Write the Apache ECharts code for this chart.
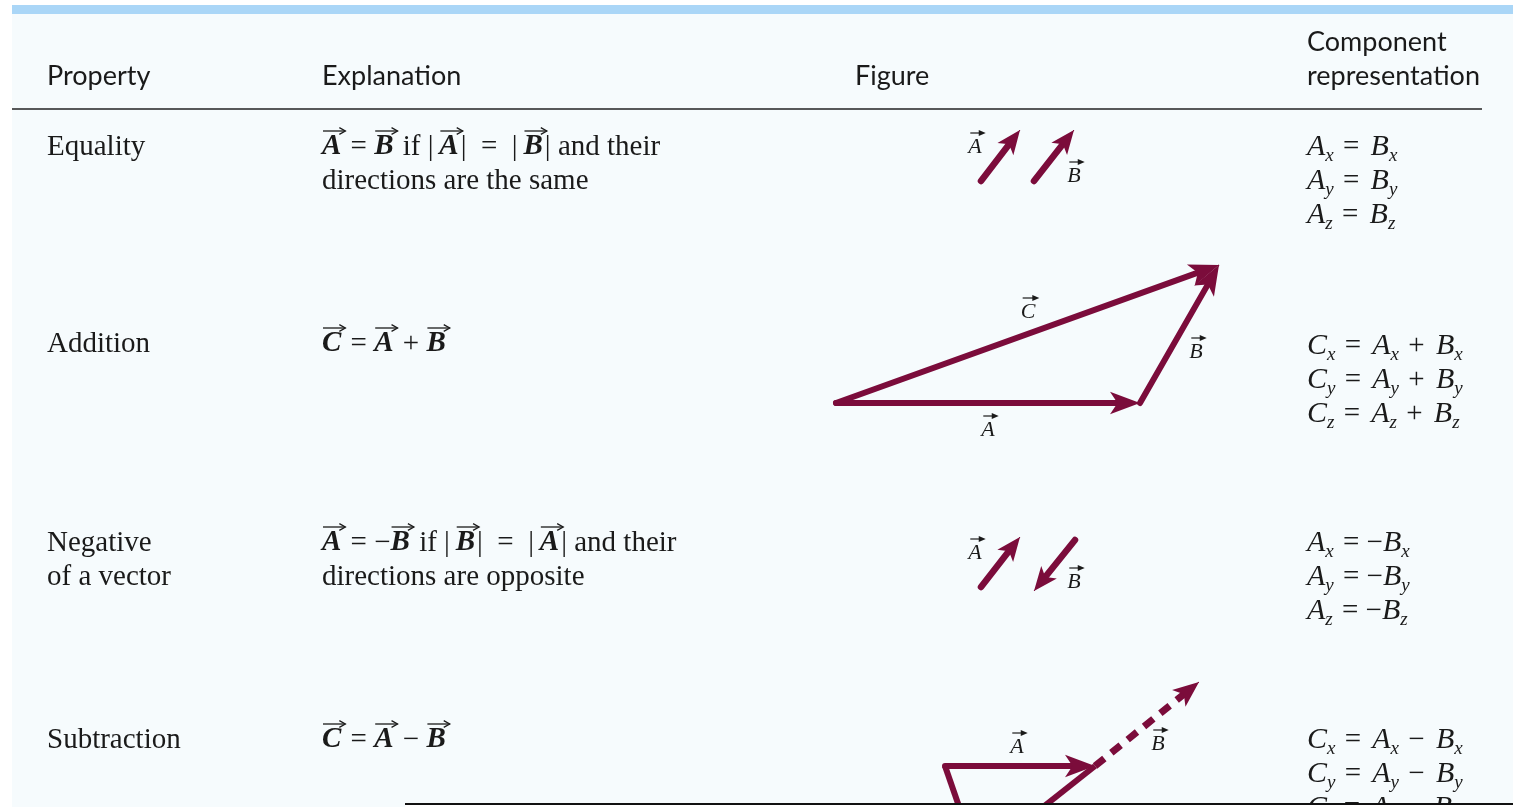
<!DOCTYPE html>
<html>
<head>
<meta charset="utf-8">
<title>Vector properties</title>
<script src="https://cdn.jsdelivr.net/npm/echarts@6/dist/echarts.min.js"></script>
<style>
  html, body { margin: 0; padding: 0; background: #fff; }
  #main { width: 1513px; height: 807px; }
</style>
</head>
<body>
<div id="main"></div>
<script>
// table content
var headers = ['Property', 'Explanation', 'Figure', 'Component\nrepresentation'];
var properties = ['Equality', 'Addition', 'Negative\nof a vector', 'Subtraction'];
// *X* = vector X
var explanations = [
  ['*A* = *B* if |\u2009*A*|\u2002=\u2002|\u2009*B*| and their', 'directions are the same'],
  ['*C* = *A* + *B*'],
  ['*A* = \u2212*B* if |\u2009*B*|\u2002=\u2002|\u2009*A*| and their', 'directions are opposite'],
  ['*C* = *A* \u2212 *B*']
];
var components = [
  ['A_x = B_x', 'A_y = B_y', 'A_z = B_z'],
  ['C_x = A_x + B_x', 'C_y = A_y + B_y', 'C_z = A_z + B_z'],
  ['A_x = \u2212B_x', 'A_y = \u2212B_y', 'A_z = \u2212B_z'],
  ['C_x = A_x \u2212 B_x', 'C_y = A_y \u2212 B_y', 'C_z = A_z \u2212 B_z']
];

// figure vectors [x1, y1, x2, y2] in figure units, tail -> tip
var equalityVectors = [[981, 181, 1020, 130], [1034, 181, 1074, 130]];
var additionVectors = [[836, 403, 1140, 403], [1140, 403, 1219, 265], [836, 403, 1219, 265]];
var negativeVectors = [[981, 587, 1020, 537], [1075, 540, 1034, 591]];
var subtractionVectors = [[945, 766, 1095, 766]];
var subtractionDashed = [[1095, 766, 1199, 682]];
var subtractionLines = [[945, 766, 962, 815], [1095, 766, 1033, 815]];
var figureLabels = [
  ['A', 975, 147], ['B', 1074, 176],
  ['C', 1028, 312], ['B', 1196, 352], ['A', 988, 430],
  ['A', 975, 553], ['B', 1074, 582],
  ['A', 1017, 747], ['B', 1158, 744]
];

// layout
var colX = [47, 322, 855, 1307];
var rowY = [147, 344, 543, 740];
var compY = [147, 346, 543, 740];
var lineGap = 34;
var maroon = '#7b0c3b';
var ink = '#1a1a1a';

var FONTS = {
  hd: '27px Lato',
  rm: '29px "Liberation Serif"',
  v: 'bold italic 29px "Liberation Serif"',
  i: 'italic 30px "Liberation Serif"',
  sub: 'italic 19px "Liberation Serif"',
  lbl: 'italic 22px "Liberation Serif"'
};

var ctx = document.createElement('canvas').getContext('2d');
function width(str, f) {
  ctx.font = FONTS[f];
  return ctx.measureText(str).width;
}

var els = [];
function text(str, x, y, f, align) {
  els.push({
    type: 'text', z: 50, silent: true,
    style: { text: str, x: x, y: y, font: FONTS[f], fill: ink, align: align || 'left', verticalAlign: 'middle' }
  });
}
// little arrow over a vector symbol; open head for the text, filled for figure labels
function overArrow(x1, x2, y, lw, hs, filled) {
  els.push({ type: 'line', z: 50, silent: true, shape: { x1: x1, y1: y, x2: x2 - (filled ? hs - 1 : 0), y2: y }, style: { stroke: ink, lineWidth: lw } });
  if (filled) {
    els.push({ type: 'polygon', z: 50, silent: true, shape: { points: [[x2, y], [x2 - hs, y - hs / 2.4], [x2 - hs, y + hs / 2.4]] }, style: { fill: ink } });
  } else {
    els.push({ type: 'polyline', z: 50, silent: true, shape: { points: [[x2 - hs, y - hs / 1.8], [x2, y], [x2 - hs, y + hs / 1.8]] }, style: { stroke: ink, lineWidth: lw, fill: null } });
  }
}
function explLine(str, x, y) {
  str.split('*').forEach(function (p, k) {
    if (!p) return;
    var f = k % 2 ? 'v' : 'rm';
    var w = width(p, f);
    text(p, x, y, f);
    if (f === 'v') {
      overArrow(x + 1, x + w + 4, y - 16, 1.3, 6, false);
      w += 2;
    }
    x += w;
  });
}
function compLine(str, x, y) {
  var re = /([A-Z])_([xyz])|([^A-Z]+)/g, m;
  while ((m = re.exec(str))) {
    if (m[1]) {
      text(m[1], x, y, 'i');
      x += width(m[1], 'i');
      text(m[2], x, y + 9, 'sub');
      x += width(m[2], 'sub');
    } else {
      var op = m[3];
      var pad = op.charAt(0) === ' ' ? 2 : 0;
      text(op, x + pad, y, 'rm');
      x += width(op, 'rm') + (op.charAt(op.length - 1) === ' ' ? 2 * pad + 2 : pad);
    }
  }
}

// background pieces
els.push({ type: 'rect', z: 0, silent: true, shape: { x: 12, y: 13, width: 1501, height: 794 }, style: { fill: '#f6fbfd' } });
els.push({ type: 'rect', z: 1, silent: true, shape: { x: 12, y: 5, width: 1501, height: 9 }, style: { fill: '#aad6f7' } });
els.push({ type: 'line', z: 1, silent: true, shape: { x1: 12, y1: 109, x2: 1482, y2: 109 }, style: { stroke: '#222', lineWidth: 1.5 } });
els.push({ type: 'rect', z: 100, silent: true, shape: { x: 405, y: 805, width: 1108, height: 2 }, style: { fill: '#ffffff' } });
els.push({ type: 'rect', z: 101, silent: true, shape: { x: 405, y: 803, width: 1108, height: 2 }, style: { fill: '#111' } });

headers.forEach(function (h, c) {
  var lines = h.split('\n');
  lines.forEach(function (l, k) {
    text(l, colX[c], 76 - (lines.length - 1 - k) * lineGap, 'hd');
  });
});
properties.forEach(function (p, r) {
  p.split('\n').forEach(function (l, k) { text(l, colX[0], rowY[r] + k * lineGap, 'rm'); });
});
explanations.forEach(function (ex, r) {
  ex.forEach(function (l, k) { explLine(l, colX[1], rowY[r] + k * lineGap); });
});
components.forEach(function (cs, r) {
  cs.forEach(function (l, k) { compLine(l, colX[3], compY[r] + k * lineGap); });
});
figureLabels.forEach(function (lb) {
  var w = width(lb[0], 'lbl');
  text(lb[0], lb[1], lb[2], 'lbl', 'center');
  overArrow(lb[1] - w / 2 + 2, lb[1] + w / 2 + 4, lb[2] - 14, 1.2, 7, true);
});

// shafts stop under the head; heads ride on a tiny segment ending at the tip
function unit(v) {
  var dx = v[2] - v[0], dy = v[3] - v[1];
  var len = Math.sqrt(dx * dx + dy * dy);
  return [dx / len, dy / len];
}
function shaftData(list, headLen) {
  return list.map(function (v) {
    var u = unit(v);
    return { coords: [[v[0], v[1]], [v[2] - u[0] * headLen * 0.6, v[3] - u[1] * headLen * 0.6]] };
  });
}
function headData(list, head) {
  return list.map(function (v) {
    var u = unit(v);
    return { coords: [[v[2] - u[0] * 2, v[3] - u[1] * 2], [v[2], v[3]]], symbolSize: [0, head] };
  });
}
function plainData(list) {
  return list.map(function (v) { return { coords: [[v[0], v[1]], [v[2], v[3]]] }; });
}

function linesSeries(data, style, symbol) {
  return {
    type: 'lines',
    coordinateSystem: 'cartesian2d',
    z: 3,
    silent: true,
    animation: false,
    symbol: symbol || 'none',
    lineStyle: Object.assign({ color: maroon, opacity: 1 }, style),
    data: data
  };
}

var smallHead = [15, 24];
var bigHead = [17, 30];
var dashHead = [16, 26];

var chart = echarts.init(document.getElementById('main'));
chart.setOption({
  backgroundColor: '#ffffff',
  animation: false,
  grid: { left: 0, right: 0, top: 0, bottom: 0 },
  xAxis: { type: 'value', min: 0, max: 1513, show: false },
  yAxis: { type: 'value', min: 0, max: 807, inverse: true, show: false },
  graphic: { elements: els },
  series: [
    linesSeries(shaftData(equalityVectors.concat(negativeVectors), smallHead[1]), { width: 6.5, cap: 'round' }),
    linesSeries(headData(equalityVectors.concat(negativeVectors), smallHead), { width: 1 }, ['none', 'arrow']),
    linesSeries(shaftData(additionVectors.concat(subtractionVectors), bigHead[1]), { width: 6, cap: 'round' }),
    linesSeries(headData(additionVectors.concat(subtractionVectors), bigHead), { width: 1 }, ['none', 'arrow']),
    linesSeries(shaftData(subtractionDashed, dashHead[1]), { width: 7, type: [12, 9], cap: 'butt' }),
    linesSeries(headData(subtractionDashed, dashHead), { width: 1 }, ['none', 'arrow']),
    linesSeries(plainData(subtractionLines), { width: 6, cap: 'butt' })
  ]
});
</script>
</body>
</html>
